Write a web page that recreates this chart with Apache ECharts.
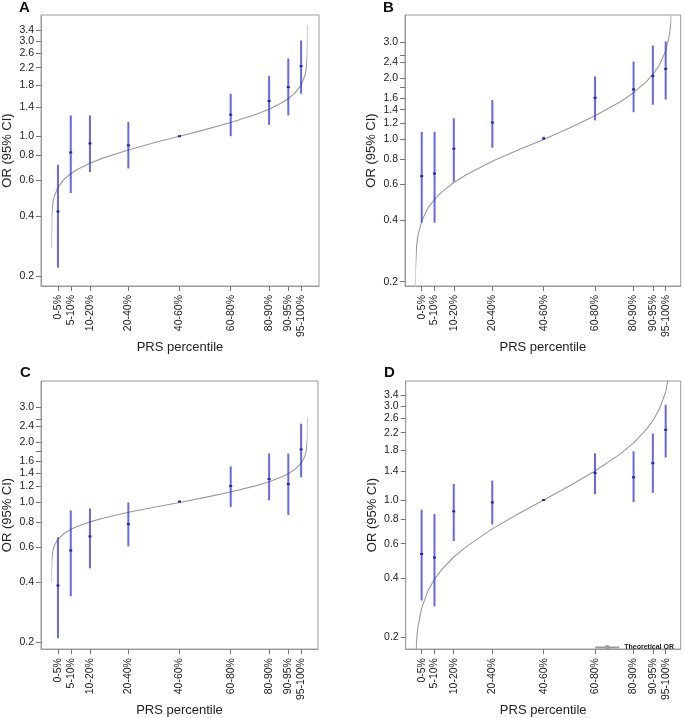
<!DOCTYPE html>
<html><head><meta charset="utf-8">
<script src="https://cdn.jsdelivr.net/npm/echarts@6/dist/echarts.min.js"></script>
<style>html,body{margin:0;padding:0;background:#fff}#c{width:685px;height:718px}</style>
</head><body><div id="c"></div>
<script>
// ---------- data ----------
const categories = ['0-5%','5-10%','10-20%','20-40%','40-60%','60-80%','80-90%','90-95%','95-100%'];
const catMid = [2.5, 7.5, 15, 30, 50, 70, 85, 92.5, 97.5];

// Panel A
const orA = [0.42, 0.83, 0.92, 0.90, 1.00, 1.28, 1.50, 1.76, 2.24];
const loA = [0.22, 0.52, 0.66, 0.69, 0.99, 1.00, 1.14, 1.27, 1.63];
const hiA = [0.72, 1.27, 1.27, 1.18, 1.01, 1.63, 2.00, 2.45, 3.01];
// Panel B
const orB = [0.66, 0.68, 0.90, 1.21, 1.01, 1.60, 1.76, 2.05, 2.22];
const loB = [0.39, 0.39, 0.62, 0.91, 1.00, 1.24, 1.36, 1.48, 1.57];
const hiB = [1.09, 1.09, 1.27, 1.56, 1.03, 2.04, 2.41, 2.89, 3.03];
// Panel C
const orC = [0.385, 0.576, 0.677, 0.779, 1.01, 1.21, 1.31, 1.235, 1.84];
const loC = [0.210, 0.340, 0.469, 0.603, 1.00, 0.951, 1.026, 0.866, 1.337];
const hiC = [0.670, 0.913, 0.934, 1.00, 1.02, 1.514, 1.755, 1.755, 2.474];
// Panel D
const orD = [0.532, 0.510, 0.876, 0.972, 1.00, 1.371, 1.304, 1.539, 2.275];
const loD = [0.308, 0.288, 0.618, 0.750, 0.99, 1.070, 0.976, 1.087, 1.644];
const hiD = [0.893, 0.849, 1.207, 1.254, 1.01, 1.729, 1.769, 2.180, 3.050];

// Theoretical OR curves (percentile, OR)
const curveP = [0.001, 0.01, 0.1, 0.5, 1, 2.5, 5, 7.5, 10, 15, 20, 30, 40, 50, 60, 70, 80, 85, 90, 92.5, 95, 97.5, 99, 99.5, 99.9, 99.99, 99.999];
const curveA = [0.278, 0.328, 0.396, 0.462, 0.498, 0.556, 0.610, 0.649, 0.681, 0.733, 0.777, 0.854, 0.927, 1.0, 1.079, 1.170, 1.287, 1.364, 1.469, 1.540, 1.638, 1.800, 2.010, 2.166, 2.529, 3.05, 3.60];
const curveB = [0.135, 0.174, 0.234, 0.298, 0.335, 0.398, 0.462, 0.508, 0.548, 0.614, 0.673, 0.782, 0.888, 1.0, 1.138, 1.306, 1.536, 1.696, 1.923, 2.084, 2.314, 2.718, 3.27, 3.72, 4.83, 6.6, 8.8];
const curveC = [0.400, 0.449, 0.515, 0.575, 0.606, 0.656, 0.702, 0.734, 0.759, 0.800, 0.834, 0.893, 0.947, 1.0, 1.060, 1.128, 1.214, 1.269, 1.343, 1.393, 1.460, 1.570, 1.708, 1.808, 2.035, 2.352, 2.667];
const curveD = [0.064, 0.091, 0.136, 0.190, 0.223, 0.282, 0.346, 0.395, 0.438, 0.513, 0.581, 0.713, 0.849, 1.0, 1.178, 1.403, 1.720, 1.951, 2.285, 2.53, 2.89, 3.54, 4.49, 5.26, 7.3, 11.0, 15.6];

// y ticks
const ticksAD = [0.2, 0.4, 0.6, 0.8, 1.0, 1.4, 1.8, 2.2, 2.6, 3.0, 3.4];
const ticksBC = [0.2, 0.4, 0.6, 0.8, 1.0, 1.2, 1.4, 1.6, 1.8, 2.0, 2.4, 2.6, 3.0];
const labelsBC = [0.2, 0.4, 0.6, 0.8, 1.0, 1.2, 1.4, 1.6, 2.0, 2.4, 3.0];

// ---------- layout ----------
const FONT = 'Liberation Sans, Arial, sans-serif';
const panels = [
  {name:'A', grid:{left:40, top:15, width:279, height:271}, x:[-4.13, 104.5], y:[-0.749, 0.606], or:orA, lo:loA, hi:hiA, curve:curveA, ticks:ticksAD, labels:ticksAD, lab:[19, 9.5]},
  {name:'B', grid:{left:405, top:15, width:275.7, height:271}, x:[-4.01, 103.35], y:[-0.720, 0.611], or:orB, lo:loB, hi:hiB, curve:curveB, ticks:ticksBC, labels:labelsBC, lab:[383, 9.5]},
  {name:'C', grid:{left:40, top:381, width:278, height:271.7}, x:[-4.13, 104.1], y:[-0.732, 0.6065], or:orC, lo:loC, hi:hiC, curve:curveC, ticks:ticksBC, labels:labelsBC, lab:[20, 374]},
  {name:'D', grid:{left:405.7, top:381, width:275, height:271.7}, x:[-3.7, 103.35], y:[-0.758, 0.605], or:orD, lo:loD, hi:hiD, curve:curveD, ticks:ticksAD, labels:ticksAD, lab:[384, 374]}
];

const lg = v => Math.log10(v);
const grids = [], xAxes = [], yAxes = [], series = [], graphics = [], visualMaps = [];
const BOX = '#9a9a9a';

function renderBar(params, api) {
  const x = api.value(0);
  const lo = api.coord([x, api.value(1)]);
  const hi = api.coord([x, api.value(2)]);
  const pt = api.coord([x, api.value(3)]);
  return {type:'group', children:[
    {type:'line', shape:{x1:lo[0], y1:lo[1], x2:hi[0], y2:hi[1]}, style:{stroke:'rgba(45,45,225,0.72)', lineWidth:2}},
    {type:'rect', shape:{x:pt[0]-1.5, y:pt[1]-1, width:3, height:2}, style:{fill:'#2020b0'}}
  ]};
}

const yLabelStyle = {show:true, margin:7, fontSize:10.5, color:'#222', fontFamily:FONT,
  hideOverlap:false, showMinLabel:true, showMaxLabel:true, formatter: v => Math.pow(10, v).toFixed(1)};

panels.forEach((p, i) => {
  grids.push(Object.assign({show:true, borderColor:BOX, borderWidth:1, backgroundColor:'transparent'}, p.grid));
  xAxes.push({
    type:'value', gridIndex:i, min:p.x[0], max:p.x[1], position:'bottom',
    name:'PRS percentile', nameLocation:'middle', nameGap:52,
    nameTextStyle:{fontSize:13, color:'#222', fontFamily:FONT},
    axisLine:{show:true, onZero:false, lineStyle:{color:BOX, width:1}}, splitLine:{show:false},
    axisTick:{show:true, inside:false, length:5, lineStyle:{color:'#777', width:1}, customValues:catMid},
    axisLabel:{show:true, rotate:90, margin:9, fontSize:10.5, lineHeight:10, color:'#222', fontFamily:FONT, customValues:catMid,
      hideOverlap:false, showMinLabel:true, showMaxLabel:true,
      formatter: v => { let best = 0; catMid.forEach((m, k) => { if (Math.abs(m - v) < Math.abs(catMid[best] - v)) best = k; }); return categories[best]; }}
  });
  // primary y axis: ticks + every other label
  const evenLabels = p.labels.filter((v, k) => k % 2 === 0).map(lg);
  const oddLabels = p.labels.filter((v, k) => k % 2 === 1).map(lg);
  yAxes.push({
    type:'value', gridIndex:i, min:p.y[0], max:p.y[1], position:'left',
    name:'OR (95% CI)', nameLocation:'middle', nameGap:27,
    nameTextStyle:{fontSize:13, color:'#222', fontFamily:FONT},
    axisLine:{show:true, onZero:false, lineStyle:{color:BOX, width:1}}, splitLine:{show:false},
    axisTick:{show:true, inside:false, length:5, lineStyle:{color:'#777', width:1}, customValues:p.ticks.map(lg)},
    axisLabel:Object.assign({customValues:evenLabels}, yLabelStyle)
  });
  // secondary y axis on the same grid: remaining labels only
  yAxes.push({
    type:'value', gridIndex:i, min:p.y[0], max:p.y[1], position:'left', offset:0,
    axisLine:{show:false, onZero:false}, axisTick:{show:false}, splitLine:{show:false},
    axisLabel:Object.assign({customValues:oddLabels}, yLabelStyle)
  });
  series.push({
    type:'line', name:'Theoretical OR', xAxisIndex:i, yAxisIndex:2 * i,
    data: curveP.map((q, k) => [q, lg(p.curve[k])]),
    symbol:'circle', symbolSize:4, showSymbol:false, clip:true, silent:true,
    lineStyle:{width:1.1}, z:2
  });
  visualMaps.push({
    type:'piecewise', show:false, seriesIndex:2 * i, dimension:0,
    pieces:[{lt:0.3, color:'#d2d2d2'}, {gte:0.3, lte:99.7, color:'#9a9a9a'}, {gt:99.7, color:'#d2d2d2'}]
  });
  series.push({
    type:'custom', name:'OR ' + p.name, xAxisIndex:i, yAxisIndex:2 * i, clip:true, z:3,
    data: catMid.map((m, k) => [m, lg(p.lo[k]), lg(p.hi[k]), lg(p.or[k])]),
    renderItem: renderBar
  });
  graphics.push({type:'text', left:p.lab[0], top:p.lab[1] - 9, style:{text:p.name, font:'bold 15px ' + FONT, fill:'#111'}});
});

const chart = echarts.init(document.getElementById('c'), null, {renderer:'canvas'});
chart.setOption({
  animation:false,
  backgroundColor:'#fff',
  grid:grids, xAxis:xAxes, yAxis:yAxes, series:series,
  visualMap:visualMaps,
  graphic:graphics,
  legend:{data:[{name:'Theoretical OR', itemStyle:{color:'#9a9a9a'}, lineStyle:{color:'#9a9a9a'}}], right:6, top:639, itemWidth:24, itemHeight:6, itemGap:4,
    textStyle:{fontSize:7, fontWeight:'bold', color:'#222', fontFamily:FONT}, selectedMode:false}
});
</script>
</body></html>
